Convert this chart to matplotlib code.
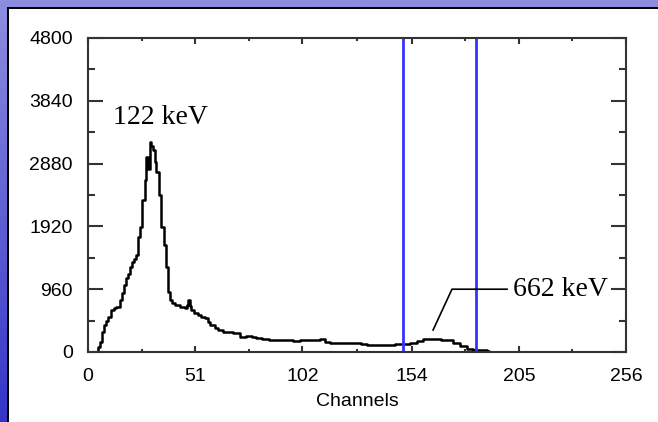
import numpy as np
import matplotlib
matplotlib.use("Agg")
import matplotlib.pyplot as plt
from matplotlib.patches import Rectangle
from matplotlib.ticker import MultipleLocator, FixedLocator

# spectrum (channel where step starts, counts)
channels = [0, 4.8, 5.5, 6.5, 7.5, 8.5, 9.5, 11, 12.5, 13.5, 15, 16, 17, 18, 19, 20,
            21, 22, 23, 23.8, 24.6, 25.7, 27, 27.8, 28.5, 29.3, 30.1, 30.9, 31.7,
            32.5, 33.6, 34.9, 36.2, 37.3, 38, 39, 40, 41.2, 43.6, 46, 47, 47.6,
            48.4, 49.2, 50.5, 52.3, 54, 55.7, 57, 58, 60.4, 62, 64.4, 67, 69.2,
            72.3, 75, 77.9, 80, 82.6, 86, 89.8, 94, 97.7, 101, 104.8, 107.2, 110.4,
            113, 115.2, 120, 126.2, 130, 132.6, 137, 142.1, 146, 150, 153.2, 156.4,
            159.5, 164.3, 168, 170.7, 173.8, 177, 180.2, 183, 186.5, 189.7, 191, 256]
counts = [0, 80, 158, 300, 413, 480, 540, 642, 680, 693, 795, 900, 1024, 1130, 1200,
          1304, 1381, 1420, 1483, 1763, 1916, 2324, 2630, 2986, 2800, 3216, 3150,
          3089, 2900, 2757, 2400, 1916, 1636, 1304, 922, 800, 744, 719, 693, 668,
          720, 790, 700, 642, 600, 566, 540, 515, 460, 413, 362, 340, 310, 300, 285,
          224, 240, 234, 210, 193, 190, 183, 178, 173, 183, 183, 183, 193, 160, 142,
          135, 132, 115, 107, 110, 107, 115, 122, 142, 173, 193, 193, 190, 183, 132,
          92, 41, 35, 31, 20, 0, 0]

roi_channels = [150, 184.5]
x_ticks = [0, 51, 102, 154, 205, 256]
y_ticks = [0, 960, 1920, 2880, 3840, 4800]

peak_labels = ["122 keV", "662 keV"]

fig = plt.figure(figsize=(6.58, 4.22), dpi=100)

# blue frame with gradient, white panel on top
bg = fig.add_axes([0, 0, 1, 1], zorder=-10)
grad = np.linspace(0, 1, 256).reshape(-1, 1)
cmap = matplotlib.colors.LinearSegmentedColormap.from_list("frame", ["#8e8ee0", "#3434c8"])
bg.imshow(grad, aspect="auto", cmap=cmap, extent=[0, 1, 0, 1], origin="upper")
bg.add_patch(Rectangle((7 / 658, 0), 1, 1 - 7 / 422, transform=bg.transAxes,
                       facecolor="black", edgecolor="none"))
bg.add_patch(Rectangle((9 / 658, 0), 1, 1 - 9 / 422, transform=bg.transAxes,
                       facecolor="white", edgecolor="none"))
bg.set_xlim(0, 1)
bg.set_ylim(0, 1)
bg.axis("off")

ax = fig.add_axes([88 / 658, 1 - 352 / 422, (626 - 88) / 658, (352 - 38) / 422])
ax.plot(channels, counts, drawstyle="steps-post", color="black", lw=1.8)
for c in roi_channels:
    ax.axvline(c, color="#3333ff", lw=2)

ax.set_xlim(0, 256)
ax.set_ylim(0, 4800)
ax.xaxis.set_major_locator(FixedLocator(x_ticks))
ax.xaxis.set_minor_locator(FixedLocator([(a + b) / 2 for a, b in zip(x_ticks[:-1], x_ticks[1:])]))
ax.yaxis.set_major_locator(FixedLocator(y_ticks))
ax.yaxis.set_minor_locator(MultipleLocator(480))

tick_font = "Liberation Sans"
ax.set_xticklabels([str(t) for t in x_ticks], family=tick_font, fontsize=14)
ax.set_yticklabels([str(t) for t in y_ticks], family=tick_font, fontsize=14)
ax.tick_params(axis="y", which="major", direction="in", length=10.5, width=1.5,
               left=True, right=True, pad=11, color="#333333")
ax.tick_params(axis="y", which="minor", direction="in", length=5, width=1.5,
               left=True, right=True, color="#333333")
ax.tick_params(axis="x", which="major", direction="in", length=4.5, width=1.5,
               top=True, bottom=True, pad=11.5, color="#333333")
ax.tick_params(axis="x", which="minor", direction="in", length=2, width=1.5,
               top=True, bottom=True, color="#333333")
for s in ax.spines.values():
    s.set_linewidth(1.5)
    s.set_color("#333333")

ax.set_xlabel("Channels", family=tick_font, fontsize=14, labelpad=6)

ax.text(34.3, 3578, peak_labels[0], family="Liberation Serif", fontsize=20,
        ha="center", va="center")
ax.text(225, 963, peak_labels[1], family="Liberation Serif", fontsize=20,
        ha="center", va="center",
        bbox=dict(facecolor="white", edgecolor="none", pad=1))
ax.plot([164.2, 173.2, 199.4], [336, 960, 960], color="black", lw=1.2)

fig.savefig("out.png", dpi=100)
